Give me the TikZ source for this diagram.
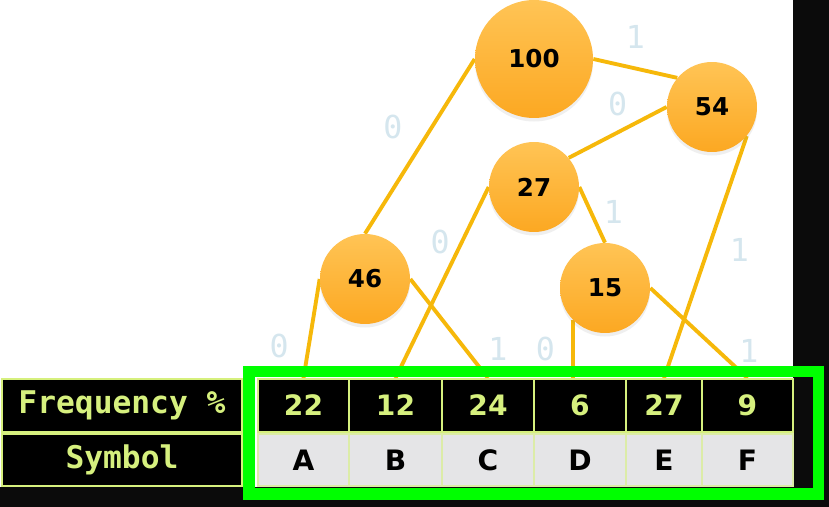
\documentclass[tikz,border=0pt]{standalone}
\usepackage{fontspec}
\setmainfont{DejaVu Sans}
\newfontfamily\codefont{DejaVu Sans Mono}
\usepackage{tikz}
\usetikzlibrary{positioning,shadows}
\pgfdeclarelayer{edges}
\pgfsetlayers{edges,main}
\definecolor{nodetop}{HTML}{FFC455}
\definecolor{nodebot}{HTML}{FCA822}
\definecolor{edgeyellow}{HTML}{F6B80A}
\definecolor{bitblue}{HTML}{D5E6EE}
\definecolor{palelime}{HTML}{D6F07E}
\definecolor{cellgray}{HTML}{E5E5E7}
\definecolor{framegreen}{HTML}{00FF00}
\definecolor{screen}{HTML}{0B0B0B}
\tikzset{weight/.style={circle,top color=nodetop,bottom color=nodebot,minimum size=1.8cm,inner sep=0pt,drop shadow={opacity=0.12,shadow xshift=0pt,shadow yshift=-2pt},font=\fontsize{14}{14}\selectfont\bfseries}}
\tikzset{branch/.style={edgeyellow,line width=2.2pt}}
\tikzset{bit/.style={bitblue,inner sep=0pt,font=\codefont\fontsize{18}{18}\selectfont}}
\tikzset{head/.style={draw=palelime,line width=1pt,fill=black,text=palelime,minimum width=4.8cm,font=\codefont\bfseries\fontsize{17.8}{18}\selectfont}}
\tikzset{freq/.style={draw=palelime,line width=1pt,fill=black,text=palelime,minimum height=1.06cm,font=\bfseries\fontsize{16}{16}\selectfont}}
\tikzset{symb/.style={draw=palelime!60!cellgray,line width=1pt,fill=cellgray,text=black,minimum height=1.04cm,font=\bfseries\fontsize{16}{16}\selectfont}}
\tikzset{frame/.style={draw=framegreen,line width=0.23cm}}

\begin{document}
\begin{tikzpicture}[x=0.02cm,y=-0.02cm]
  \useasboundingbox (0,0) rectangle (829,507);
  \node[head,minimum height=1.06cm] (hfreq) at (122,405.5) {Frequency \%};
  \node[head,minimum height=1.04cm] (hsym) at (122,460) {Symbol};
  \node[freq,minimum width=1.82cm] (fA) at (303.5,405.5) {22};
  \node[freq,minimum width=1.86cm] (fB) at (395.5,405.5) {12};
  \node[freq,minimum width=1.84cm] (fC) at (488,405.5) {24};
  \node[freq,minimum width=1.84cm] (fD) at (580,405.5) {6};
  \node[freq,minimum width=1.52cm] (fE) at (664,405.5) {27};
  \node[freq,minimum width=1.82cm] (fF) at (747.5,405.5) {9};
  \node[symb,minimum width=1.82cm] (sA) at (303.5,460) {A};
  \node[symb,minimum width=1.86cm] (sB) at (395.5,460) {B};
  \node[symb,minimum width=1.84cm] (sC) at (488,460) {C};
  \node[symb,minimum width=1.84cm] (sD) at (580,460) {D};
  \node[symb,minimum width=1.52cm] (sE) at (664,460) {E};
  \node[symb,minimum width=1.82cm] (sF) at (747.5,460) {F};
  \node[weight,minimum size=2.36cm] (n100) at (534,59) {100};
  \node[weight] (n54) at (712,107) {54};
  \node[weight] (n27) at (534,187) {27};
  \node[weight] (n46) at (365,279) {46};
  \node[weight] (n15) at (605,288) {15};
  \begin{pgfonlayer}{edges}
    \fill[screen] (0,0) rectangle (829,507);
    \fill[white] (0,0) rectangle (793,487);
    \draw[branch] (n100.west) -- node[bit,pos=0.39,left=0.55cm] {0} (n46.north);
    \draw[branch] (n100.east) -- node[bit,pos=0.5,above=0.35cm] {1} (n54.140);
    \draw[branch] (n54.west) -- node[bit,pos=0.5,above=0.3cm] {0} (n27.40);
    \draw[branch] (n54.-40) -- node[bit,pos=0.47,right=0.4cm] {1} (fE.north);
    \draw[branch] (n27.west) -- node[bit,pos=0.29,left=0.2cm] {0} (fB.north);
    \draw[branch] (n27.east) -- node[bit,pos=0.45,right=0.22cm] {1} (n15.north);
    \draw[branch] (n46.west) -- node[bit,pos=0.68,left=0.36cm] {0} (fA.north);
    \draw[branch] (n46.east) -- node[bit,pos=0.71,right=0.42cm] {1} (fC.north);
    \draw[branch] (n15.-135) -- node[bit,pos=0.5,left=0.32cm] {0} (n15.-135 |- fD.north);
    \draw[branch] (n15.east) -- node[bit,pos=0.7,right=0.38cm] {1} (fF.north);
  \end{pgfonlayer}
  \draw[frame] (249,371.5) rectangle (818.5,494);
\end{tikzpicture}
\end{document}
